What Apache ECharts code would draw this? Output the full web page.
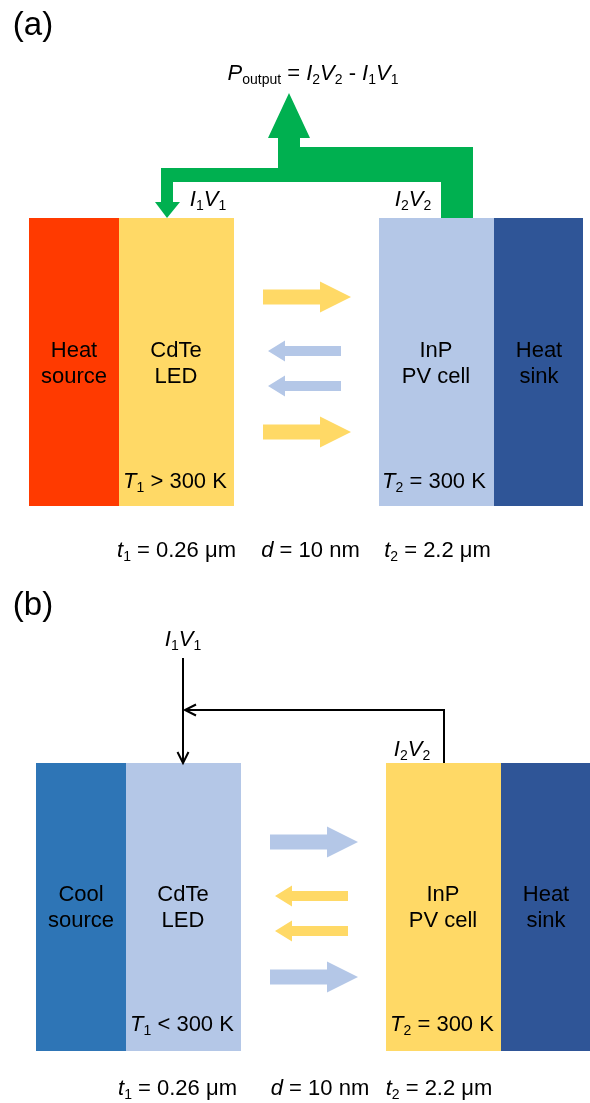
<!DOCTYPE html>
<html><head><meta charset="utf-8">
<script src="https://cdn.jsdelivr.net/npm/echarts@6/dist/echarts.min.js"></script>
<style>html,body{margin:0;padding:0;background:#fff}#c{width:590px;height:1103px}</style>
</head><body><div id="c"></div>
<script>
// ---------------- data (texts / values) ----------------
const panelLabels = ['(a)', '(b)'];
const sourceNames = ['Heat\nsource', 'Cool\nsource'];
const ledNames = ['CdTe\nLED', 'CdTe\nLED'];
const pvNames = ['InP\nPV cell', 'InP\nPV cell'];
const sinkNames = ['Heat\nsink', 'Heat\nsink'];
const ledTempSigns = ['>', '<'];
const pvTempSigns = ['=', '='];
const tempK = [300, 300];
const t1Values = ['0.26 μm', '0.26 μm'];
const dValues = ['10 nm', '10 nm'];
const t2Values = ['2.2 μm', '2.2 μm'];
const powerSub = 'output';

// ---------------- layout / styles ----------------
const FONT = '"Liberation Sans", Arial, sans-serif';
const W = 590, H = 1103;
const panelOffsets = [[0, 0], [7, 545]];
const blockEdgesX = [29, 119, 234, 379, 494, 583];
const blockTop = 218, blockBottom = 506;
const YELLOW = '#FFD966', LIGHTBLUE = '#B4C7E7', NAVY = '#2F5597';
const blockColors = [['#FF3A00', YELLOW, LIGHTBLUE, NAVY], ['#2E75B6', LIGHTBLUE, YELLOW, NAVY]];
const arrowColors = [[YELLOW, LIGHTBLUE], [LIGHTBLUE, YELLOW]]; // [right arrows, left arrows]
const rightArrowShape = [263, 320, 351, 7.5, 15.5]; // tail, headBase, tip, bodyHalf, headHalf
const leftArrowShape = [341, 285, 268, 5, 10.5];
const rightArrowY = [297, 432];
const leftArrowY = [351, 386];
const greenPoly = [[289,93],[310,138],[300,138],[300,147],[473,147],[473,218],[441,218],[441,182],[173,182],[173,202],[180,202],[167,218],[155,202],[161,202],[161,168],[278,168],[278,138],[268,138]];
const blackLines = [
  [[183,658],[183,762]],
  [[444,763],[444,710],[186,710]]
];
const blackHeads = [
  [[177.5,752],[183,763],[188.5,752]],
  [[196,704.5],[185,710],[196,715.5]]
];
const labelPos = [[33,26],[33,606]];
const blockTextY = [364, 908];
const blockTextX = [[74,176,436,539],[81,183,443,546]];
const tempPos = [[[175,482],[434,482]],[[182,1025],[442,1025]]];
const bottomPos = [[[176.5,551],[310.5,551],[437.5,551]],[[177.5,1089],[320,1089],[439,1089]]];

// ---------------- rich text helpers ----------------
const it = s => `{i|${s}}`;
const sb = s => `{s|${s}}`;
const nm = s => `{n|${s}}`;
const rich = {
  n: {fontSize: 22, fontFamily: FONT, lineHeight: 26, fill: '#000'},
  i: {fontSize: 22, fontFamily: FONT, fontStyle: 'italic', lineHeight: 26, fill: '#000'},
  s: {fontSize: 14, fontFamily: FONT, lineHeight: 14, padding: [12, 0, 0, 0], fill: '#000'},
  big: {fontSize: 33, fontFamily: FONT, lineHeight: 38, fill: '#000'}
};

// ---------------- build series data ----------------
const blocks = [];
const arrows = [];
const texts = [];
panelOffsets.forEach(([dx, dy], k) => {
  const xs = blockEdgesX.map(x => x + dx);
  [[xs[0], xs[1]], [xs[1], xs[2]], [xs[3], xs[4]], [xs[4], xs[5]]].forEach((s, j) => {
    blocks.push({value: [s[0], blockTop + dy, s[1], blockBottom + dy], itemStyle: {color: blockColors[k][j]}});
  });
  rightArrowY.forEach(y => arrows.push({value: [rightArrowShape[0] + dx, rightArrowShape[1] + dx, rightArrowShape[2] + dx, y + dy, rightArrowShape[3], rightArrowShape[4]], itemStyle: {color: arrowColors[k][0]}}));
  leftArrowY.forEach(y => arrows.push({value: [leftArrowShape[0] + dx, leftArrowShape[1] + dx, leftArrowShape[2] + dx, y + dy, leftArrowShape[3], leftArrowShape[4]], itemStyle: {color: arrowColors[k][1]}}));

  texts.push({value: labelPos[k], text: `{big|${panelLabels[k]}}`});
  const names = [sourceNames[k], ledNames[k], pvNames[k], sinkNames[k]];
  names.forEach((nmStr, j) => {
    texts.push({value: [blockTextX[k][j], blockTextY[k]], text: nmStr.split('\n').map(nm).join('\n')});
  });
  texts.push({value: tempPos[k][0], text: it('T') + sb('1') + nm(` ${ledTempSigns[k]} ${tempK[k]} K`)});
  texts.push({value: tempPos[k][1], text: it('T') + sb('2') + nm(` ${pvTempSigns[k]} ${tempK[k]} K`)});
  texts.push({value: bottomPos[k][0], text: it('t') + sb('1') + nm(` = ${t1Values[k]}`)});
  texts.push({value: bottomPos[k][1], text: it('d') + nm(` = ${dValues[k]}`)});
  texts.push({value: bottomPos[k][2], text: it('t') + sb('2') + nm(` = ${t2Values[k]}`)});
});
const IV = n => it('I') + sb(n) + it('V') + sb(n);
texts.push({value: [208, 200], text: IV('1')});
texts.push({value: [413, 200], text: IV('2')});
texts.push({value: [313, 74], text: it('P') + sb(powerSub) + nm(' = ') + IV('2') + nm(' - ') + IV('1')});
texts.push({value: [183, 640], text: IV('1')});
texts.push({value: [412, 750], text: IV('2')});

// ---------------- chart ----------------
const chart = echarts.init(document.getElementById('c'), null, {renderer: 'canvas', width: W, height: H});
const toPts = (api, pts) => pts.map(p => api.coord(p));

chart.setOption({
  animation: false,
  backgroundColor: '#fff',
  grid: {left: 0, right: 0, top: 0, bottom: 0},
  xAxis: {type: 'value', min: 0, max: W, show: false},
  yAxis: {type: 'value', min: 0, max: H, inverse: true, show: false},
  series: [
    {
      type: 'custom', name: 'blocks', clip: false, encode: {x: [0, 2], y: [1, 3]},
      data: blocks,
      renderItem(params, api) {
        const p0 = api.coord([api.value(0), api.value(1)]);
        const p1 = api.coord([api.value(2), api.value(3)]);
        return {type: 'rect', shape: {x: Math.min(p0[0], p1[0]), y: Math.min(p0[1], p1[1]), width: Math.abs(p1[0] - p0[0]), height: Math.abs(p1[1] - p0[1])}, style: {fill: api.visual('color')}};
      }
    },
    {
      type: 'custom', name: 'photonArrows', clip: false, encode: {x: [0, 2], y: 3},
      data: arrows,
      renderItem(params, api) {
        const t = api.value(0), b = api.value(1), tip = api.value(2), y = api.value(3), bh = api.value(4), hh = api.value(5);
        const pts = [[t, y - bh], [b, y - bh], [b, y - hh], [tip, y], [b, y + hh], [b, y + bh], [t, y + bh]];
        return {type: 'polygon', shape: {points: toPts(api, pts)}, style: {fill: api.visual('color')}};
      }
    },
    {
      type: 'custom', name: 'powerFlow', clip: false, encode: {x: 0, y: 1},
      data: [[greenPoly[0][0], greenPoly[0][1]]],
      renderItem(params, api) {
        return {type: 'polygon', shape: {points: toPts(api, greenPoly)}, style: {fill: '#00B050'}};
      }
    },
    {
      type: 'custom', name: 'wires', clip: false, encode: {x: 0, y: 1},
      data: [[0, 0]],
      renderItem(params, api) {
        const children = [];
        blackLines.forEach(l => children.push({type: 'polyline', shape: {points: toPts(api, l)}, style: {stroke: '#000', lineWidth: 2, fill: null}}));
        blackHeads.forEach(l => children.push({type: 'polyline', shape: {points: toPts(api, l)}, style: {stroke: '#000', lineWidth: 2, fill: null, lineJoin: 'miter'}}));
        return {type: 'group', children};
      }
    },
    {
      type: 'custom', name: 'labels', clip: false, encode: {x: 0, y: 1},
      data: texts.map(t => t.value),
      renderItem(params, api) {
        const p = api.coord([api.value(0), api.value(1)]);
        return {type: 'text', x: p[0], y: p[1], style: {text: texts[params.dataIndex].text, align: 'center', verticalAlign: 'middle', fontSize: 22, fontFamily: FONT, lineHeight: 26, fill: '#000', rich}};
      }
    }
  ]
});
</script>
</body></html>
